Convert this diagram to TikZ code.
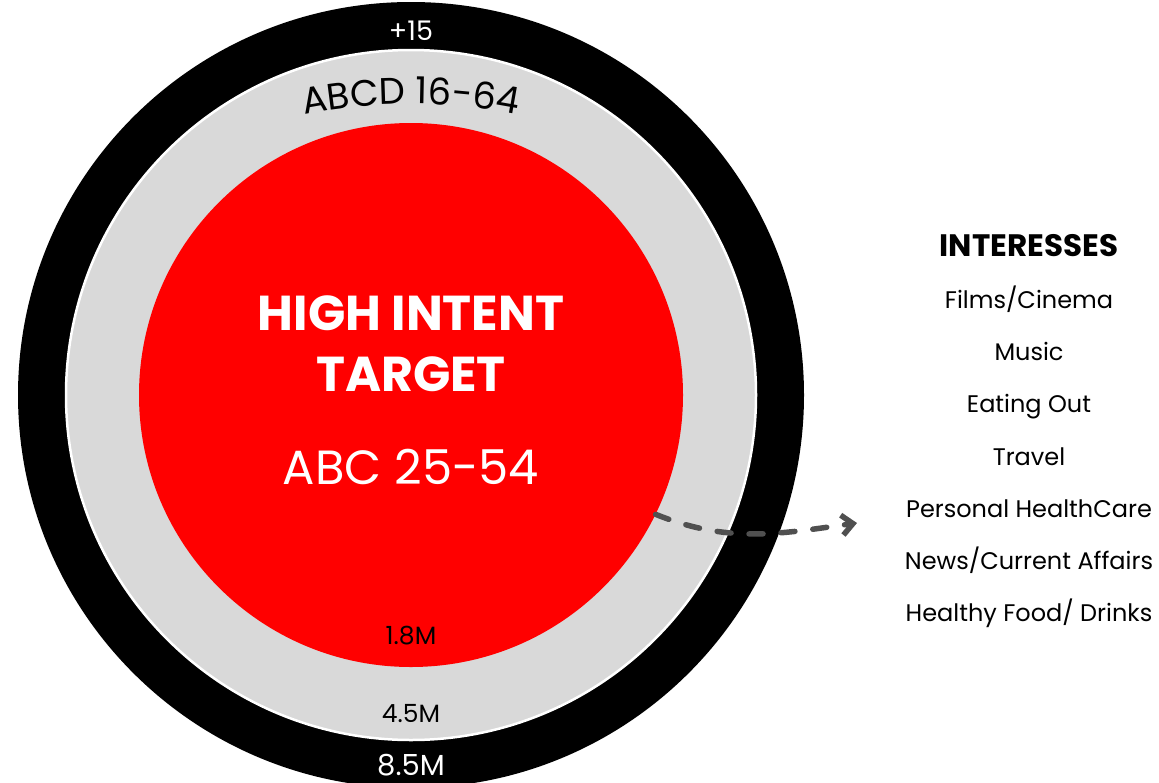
\documentclass[tikz,border=0pt]{standalone}
\usepackage{fontspec}
\setmainfont{Poppins}
\usepackage{tikz}
\usetikzlibrary{positioning, arrows.meta, decorations.text}
\definecolor{ringGray}{RGB}{217, 217, 217}
\definecolor{targetRed}{RGB}{255, 0, 0}
\definecolor{arrowGray}{RGB}{80, 80, 80}
\newcommand{\fsz}[1]{\fontsize{#1}{1.24\dimexpr #1pt\relax}\selectfont}

\begin{document}
\begin{tikzpicture}[x=1pt, y=1pt,
    ring/.style={circle, inner sep=0pt, minimum size=#1},
    item/.style={font=\fsz{24}, text=black, anchor=base}]
  \useasboundingbox (0,0) rectangle (1159,-782);
  \clip (0,0) rectangle (1159,-782);
  \coordinate (c) at (411,-395);
  \coordinate (arcc) at (411,-654);

  % Target rings
  \node[ring=786pt, fill=black] (outer) at (c) {};
  \node[ring=690pt, fill=ringGray, draw=white, line width=2.5pt] (middle) at (c) {};
  \node[ring=544pt, fill=targetRed] (inner) at (c) {};

  % Ring labels
  \node[text=white, font=\fsz{27}] (age) at (411,-31) {+15};
  \path[decorate, decoration={text along path, text align={align=center},
      text={|\fsz{37}|ABCD 16-64}}]
    ([shift={(112:550pt)}]arcc) arc (112:68:550pt);
  \node[text=white, font=\bfseries\fsz{49}, align=center] (head) at (411,-344) {HIGH INTENT\\TARGET};
  \node[text=white, font=\fsz{48}] (abc) at (411,-467) {ABC 25-54};
  \node[font=\fsz{25}] (n1) at (411,-636) {1.8M};
  \node[font=\fsz{25}] (n2) at (411,-714) {4.5M};
  \node[text=white, font=\fsz{29}] (n3) at (411,-765) {8.5M};

  % Interests list
  \node[font=\bfseries\fsz{31}] (int) at (1029,-246) {INTERESSES};
  \foreach \txt [count=\i] in {Films/Cinema, Music, Eating Out, Travel,
      Personal HealthCare, News/Current Affairs, Healthy Food/ Drinks}
    \node[item] (int\i) at (1029, {-308.5-52.2*(\i-1)}) {\txt};

  % Arrow to the list
  \coordinate (tip) at (857,-523);
  \draw[arrowGray, line width=5.5pt, line cap=round, dash pattern=on 14pt off 18pt,
      -{Straight Barb[length=11pt, width=20pt]}]
    (inner.-26) to[out=-22, in=188] (tip);
\end{tikzpicture}
\end{document}
